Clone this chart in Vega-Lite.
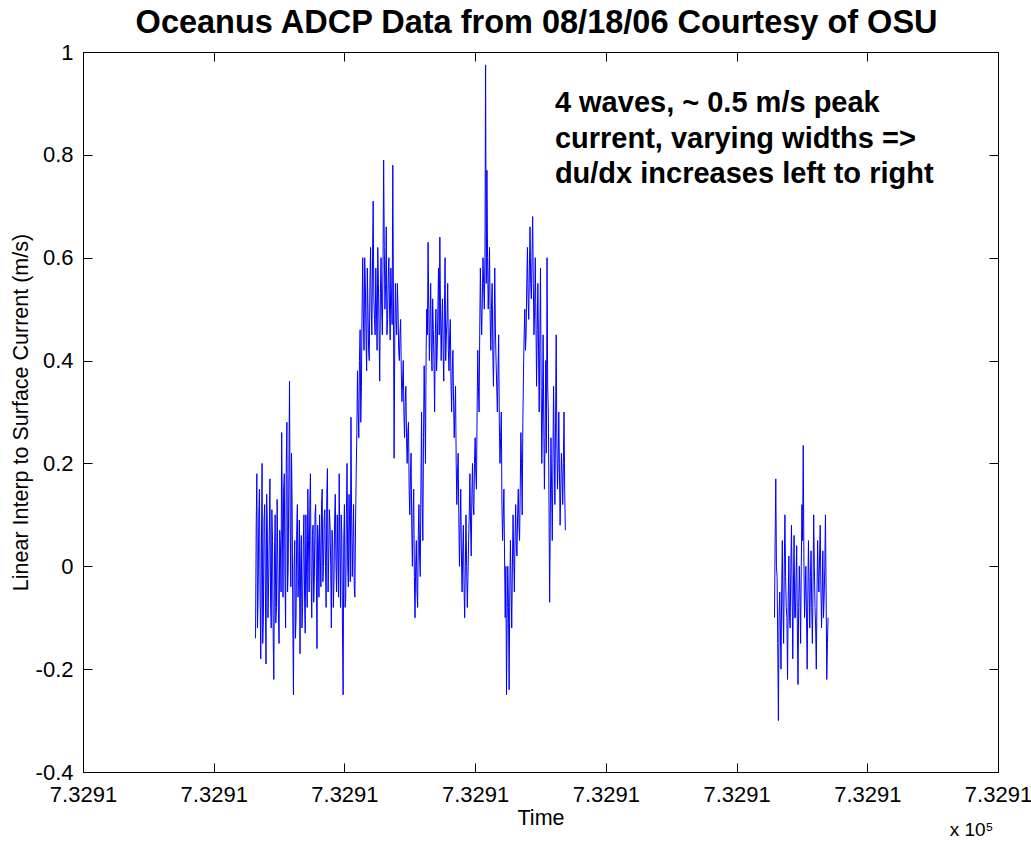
{
"$schema": "https://vega.github.io/schema/vega-lite/v6.json",
"width": 915, "height": 720,
"autosize": {"type": "none"},
"padding": {"left": 83, "top": 52, "right": 33, "bottom": 70},
"background": "white",
"config": {
  "view": {"stroke": "black", "strokeWidth": 1},
  "axis": {"grid": false, "domainColor": "black", "tickColor": "black", "labelColor": "black", "titleColor": "black", "labelFont": "Liberation Sans", "titleFont": "Liberation Sans", "labelFontSize": 22, "titleFontSize": 21.5, "titleFontWeight": "normal", "tickSize": -9, "labelFlush": false, "labelOverlap": false}
},
"data": {"values": [
{"t":132,"v":-0.14,"s":1},{"t":133,"v":0.18,"s":1},{"t":134,"v":-0.05,"s":1},{"t":135,"v":0.15,"s":1},{"t":136,"v":-0.18,"s":1},{"t":137,"v":0.2,"s":1},{"t":138,"v":-0.1,"s":1},{"t":139,"v":0.12,"s":1},{"t":140,"v":-0.19,"s":1},{"t":141,"v":0.08,"s":1},
{"t":142,"v":-0.03,"s":1},{"t":143,"v":0.17,"s":1},{"t":144,"v":-0.12,"s":1},{"t":145,"v":0.05,"s":1},{"t":146,"v":-0.22,"s":1},{"t":147,"v":0.1,"s":1},{"t":148,"v":-0.08,"s":1},{"t":149,"v":0.02,"s":1},{"t":150,"v":-0.15,"s":1},{"t":151,"v":0.04,"s":1},
{"t":152,"v":0.26,"s":1},{"t":153,"v":-0.06,"s":1},{"t":154,"v":0.18,"s":1},{"t":155,"v":-0.12,"s":1},{"t":156,"v":0.28,"s":1},{"t":157,"v":0.0,"s":1},{"t":158,"v":0.36,"s":1},{"t":159,"v":-0.04,"s":1},{"t":160,"v":0.12,"s":1},{"t":161,"v":-0.25,"s":1},
{"t":162,"v":0.05,"s":1},{"t":163,"v":-0.1,"s":1},{"t":164,"v":0.12,"s":1},{"t":165,"v":-0.02,"s":1},{"t":166,"v":-0.17,"s":1},{"t":167,"v":0.06,"s":1},{"t":168,"v":-0.08,"s":1},{"t":169,"v":0.1,"s":1},{"t":170,"v":-0.13,"s":1},{"t":171,"v":0.0,"s":1},
{"t":172,"v":0.15,"s":1},{"t":173,"v":-0.05,"s":1},{"t":174,"v":0.18,"s":1},{"t":175,"v":-0.1,"s":1},{"t":176,"v":0.08,"s":1},{"t":177,"v":-0.02,"s":1},{"t":178,"v":0.12,"s":1},{"t":179,"v":-0.16,"s":1},{"t":180,"v":0.05,"s":1},{"t":181,"v":0.1,"s":1},
{"t":182,"v":-0.04,"s":1},{"t":183,"v":0.15,"s":1},{"t":184,"v":0.0,"s":1},{"t":185,"v":0.11,"s":1},{"t":186,"v":-0.08,"s":1},{"t":187,"v":0.19,"s":1},{"t":188,"v":0.02,"s":1},{"t":189,"v":0.08,"s":1},{"t":190,"v":-0.12,"s":1},{"t":191,"v":0.05,"s":1},
{"t":192,"v":-0.03,"s":1},{"t":193,"v":0.14,"s":1},{"t":194,"v":-0.05,"s":1},{"t":195,"v":0.02,"s":1},{"t":196,"v":0.18,"s":1},{"t":197,"v":-0.08,"s":1},{"t":198,"v":0.06,"s":1},{"t":199,"v":-0.25,"s":1},{"t":200,"v":0.12,"s":1},{"t":201,"v":-0.06,"s":1},
{"t":202,"v":0.2,"s":1},{"t":203,"v":-0.04,"s":1},{"t":204,"v":0.08,"s":1},{"t":205,"v":0.29,"s":1},{"t":206,"v":-0.02,"s":1},{"t":207,"v":0.12,"s":1},{"t":208,"v":-0.06,"s":1},{"t":209,"v":0.18,"s":1},{"t":210,"v":0.38,"s":1},{"t":211,"v":0.25,"s":1},
{"t":212,"v":0.46,"s":1},{"t":213,"v":0.35,"s":1},{"t":214,"v":0.6,"s":1},{"t":215,"v":0.42,"s":1},{"t":216,"v":0.55,"s":1},{"t":217,"v":0.38,"s":1},{"t":218,"v":0.5,"s":1},{"t":219,"v":0.4,"s":1},{"t":220,"v":0.62,"s":1},{"t":221,"v":0.45,"s":1},
{"t":222,"v":0.71,"s":1},{"t":223,"v":0.48,"s":1},{"t":224,"v":0.58,"s":1},{"t":225,"v":0.42,"s":1},{"t":226,"v":0.55,"s":1},{"t":227,"v":0.36,"s":1},{"t":228,"v":0.6,"s":1},{"t":229,"v":0.45,"s":1},{"t":230,"v":0.79,"s":1},{"t":231,"v":0.5,"s":1},
{"t":232,"v":0.66,"s":1},{"t":233,"v":0.48,"s":1},{"t":234,"v":0.6,"s":1},{"t":235,"v":0.44,"s":1},{"t":236,"v":0.52,"s":1},{"t":237,"v":0.78,"s":1},{"t":238,"v":0.21,"s":1},{"t":239,"v":0.55,"s":1},{"t":240,"v":0.45,"s":1},{"t":241,"v":0.5,"s":1},
{"t":242,"v":0.4,"s":1},{"t":243,"v":0.48,"s":1},{"t":244,"v":0.32,"s":1},{"t":245,"v":0.4,"s":1},{"t":246,"v":0.25,"s":1},{"t":247,"v":0.35,"s":1},{"t":248,"v":0.2,"s":1},{"t":249,"v":0.28,"s":1},{"t":250,"v":0.1,"s":1},{"t":251,"v":0.22,"s":1},
{"t":252,"v":0.0,"s":1},{"t":253,"v":0.15,"s":1},{"t":254,"v":-0.1,"s":1},{"t":255,"v":0.05,"s":1},{"t":256,"v":-0.08,"s":1},{"t":257,"v":0.12,"s":1},{"t":258,"v":-0.02,"s":1},{"t":259,"v":0.3,"s":1},{"t":260,"v":0.05,"s":1},{"t":261,"v":0.39,"s":1},
{"t":262,"v":0.2,"s":1},{"t":263,"v":0.5,"s":1},{"t":264,"v":0.63,"s":1},{"t":265,"v":0.4,"s":1},{"t":266,"v":0.55,"s":1},{"t":267,"v":0.38,"s":1},{"t":268,"v":0.46,"s":1},{"t":269,"v":0.3,"s":1},{"t":270,"v":0.5,"s":1},{"t":271,"v":0.42,"s":1},
{"t":272,"v":0.58,"s":1},{"t":273,"v":0.64,"s":1},{"t":274,"v":0.4,"s":1},{"t":275,"v":0.52,"s":1},{"t":276,"v":0.36,"s":1},{"t":277,"v":0.6,"s":1},{"t":278,"v":0.45,"s":1},{"t":279,"v":0.55,"s":1},{"t":280,"v":0.38,"s":1},{"t":281,"v":0.48,"s":1},
{"t":282,"v":0.3,"s":1},{"t":283,"v":0.42,"s":1},{"t":284,"v":0.25,"s":1},{"t":285,"v":0.35,"s":1},{"t":286,"v":0.12,"s":1},{"t":287,"v":0.22,"s":1},{"t":288,"v":0.0,"s":1},{"t":289,"v":0.15,"s":1},{"t":290,"v":-0.05,"s":1},{"t":291,"v":0.08,"s":1},
{"t":292,"v":-0.1,"s":1},{"t":293,"v":0.1,"s":1},{"t":294,"v":-0.08,"s":1},{"t":295,"v":0.05,"s":1},{"t":296,"v":0.18,"s":1},{"t":297,"v":0.02,"s":1},{"t":298,"v":0.2,"s":1},{"t":299,"v":0.1,"s":1},{"t":300,"v":0.25,"s":1},{"t":301,"v":0.15,"s":1},
{"t":302,"v":0.42,"s":1},{"t":303,"v":0.3,"s":1},{"t":304,"v":0.58,"s":1},{"t":305,"v":0.45,"s":1},{"t":306,"v":0.6,"s":1},{"t":307,"v":0.5,"s":1},{"t":308,"v":0.975,"s":1},{"t":309,"v":0.77,"s":1},{"t":310,"v":0.5,"s":1},{"t":311,"v":0.62,"s":1},
{"t":312,"v":0.42,"s":1},{"t":313,"v":0.55,"s":1},{"t":314,"v":0.35,"s":1},{"t":315,"v":0.58,"s":1},{"t":316,"v":0.4,"s":1},{"t":317,"v":0.3,"s":1},{"t":318,"v":0.45,"s":1},{"t":319,"v":0.2,"s":1},{"t":320,"v":0.3,"s":1},{"t":321,"v":0.05,"s":1},
{"t":322,"v":0.15,"s":1},{"t":323,"v":-0.1,"s":1},{"t":324,"v":-0.25,"s":1},{"t":325,"v":0.0,"s":1},{"t":326,"v":-0.24,"s":1},{"t":327,"v":0.05,"s":1},{"t":328,"v":-0.12,"s":1},{"t":329,"v":0.1,"s":1},{"t":330,"v":-0.05,"s":1},{"t":331,"v":0.12,"s":1},
{"t":332,"v":0.02,"s":1},{"t":333,"v":0.15,"s":1},{"t":334,"v":0.05,"s":1},{"t":335,"v":0.26,"s":1},{"t":336,"v":0.1,"s":1},{"t":337,"v":0.38,"s":1},{"t":338,"v":0.5,"s":1},{"t":339,"v":0.45,"s":1},{"t":340,"v":0.62,"s":1},{"t":341,"v":0.48,"s":1},
{"t":342,"v":0.66,"s":1},{"t":343,"v":0.52,"s":1},{"t":344,"v":0.68,"s":1},{"t":345,"v":0.45,"s":1},{"t":346,"v":0.6,"s":1},{"t":347,"v":0.35,"s":1},{"t":348,"v":0.55,"s":1},{"t":349,"v":0.3,"s":1},{"t":350,"v":0.58,"s":1},{"t":351,"v":0.2,"s":1},
{"t":352,"v":0.45,"s":1},{"t":353,"v":0.15,"s":1},{"t":354,"v":0.4,"s":1},{"t":355,"v":0.6,"s":1},{"t":356,"v":0.3,"s":1},{"t":357,"v":-0.07,"s":1},{"t":358,"v":0.25,"s":1},{"t":359,"v":0.05,"s":1},{"t":360,"v":0.35,"s":1},{"t":361,"v":0.12,"s":1},
{"t":362,"v":0.45,"s":1},{"t":363,"v":0.15,"s":1},{"t":364,"v":0.3,"s":1},{"t":365,"v":0.08,"s":1},{"t":366,"v":0.22,"s":1},{"t":367,"v":0.12,"s":1},{"t":368,"v":0.3,"s":1},{"t":369,"v":0.07,"s":1},
{"t":132.5,"v":0.08,"s":1},{"t":133.5,"v":-0.12,"s":1},{"t":134.5,"v":0.1,"s":1},{"t":135.5,"v":-0.06,"s":1},{"t":136.5,"v":0.04,"s":1},{"t":137.5,"v":-0.15,"s":1},{"t":138.5,"v":0.09,"s":1},{"t":139.5,"v":-0.04,"s":1},{"t":140.5,"v":0.14,"s":1},{"t":141.5,"v":-0.1,"s":1},
{"t":142.5,"v":0.06,"s":1},{"t":143.5,"v":-0.07,"s":1},{"t":144.5,"v":0.11,"s":1},{"t":145.5,"v":-0.14,"s":1},{"t":146.5,"v":0.02,"s":1},{"t":147.5,"v":-0.11,"s":1},{"t":148.5,"v":0.13,"s":1},{"t":149.5,"v":-0.09,"s":1},{"t":150.5,"v":0.07,"s":1},{"t":151.5,"v":-0.05,"s":1},
{"t":152.5,"v":0.1,"s":1},{"t":153.5,"v":0.15,"s":1},{"t":154.5,"v":-0.02,"s":1},{"t":155.5,"v":0.2,"s":1},{"t":156.5,"v":-0.05,"s":1},{"t":157.5,"v":0.18,"s":1},{"t":158.5,"v":0.08,"s":1},{"t":159.5,"v":0.22,"s":1},{"t":160.5,"v":-0.1,"s":1},{"t":161.5,"v":0.0,"s":1},
{"t":162.5,"v":-0.14,"s":1},{"t":163.5,"v":0.07,"s":1},{"t":164.5,"v":-0.06,"s":1},{"t":165.5,"v":0.09,"s":1},{"t":166.5,"v":0.0,"s":1},{"t":167.5,"v":-0.12,"s":1},{"t":168.5,"v":0.04,"s":1},{"t":169.5,"v":-0.06,"s":1},{"t":170.5,"v":0.1,"s":1},{"t":171.5,"v":-0.08,"s":1},
{"t":172.5,"v":0.05,"s":1},{"t":173.5,"v":0.12,"s":1},{"t":174.5,"v":-0.02,"s":1},{"t":175.5,"v":0.06,"s":1},{"t":176.5,"v":-0.07,"s":1},{"t":177.5,"v":0.1,"s":1},{"t":178.5,"v":0.0,"s":1},{"t":179.5,"v":0.08,"s":1},{"t":180.5,"v":-0.06,"s":1},{"t":181.5,"v":0.02,"s":1},
{"t":182.5,"v":0.12,"s":1},{"t":183.5,"v":-0.03,"s":1},{"t":184.5,"v":0.09,"s":1},{"t":185.5,"v":0.0,"s":1},{"t":186.5,"v":0.14,"s":1},{"t":187.5,"v":-0.05,"s":1},{"t":188.5,"v":0.11,"s":1},{"t":189.5,"v":0.0,"s":1},{"t":190.5,"v":0.07,"s":1},{"t":191.5,"v":-0.08,"s":1},
{"t":192.5,"v":0.09,"s":1},{"t":193.5,"v":0.01,"s":1},{"t":194.5,"v":0.1,"s":1},{"t":195.5,"v":-0.06,"s":1},{"t":196.5,"v":0.04,"s":1},{"t":197.5,"v":0.1,"s":1},{"t":198.5,"v":-0.12,"s":1},{"t":199.5,"v":0.05,"s":1},{"t":200.5,"v":-0.08,"s":1},{"t":201.5,"v":0.1,"s":1},
{"t":202.5,"v":0.0,"s":1},{"t":203.5,"v":0.14,"s":1},{"t":204.5,"v":-0.03,"s":1},{"t":205.5,"v":0.1,"s":1},{"t":206.5,"v":0.05,"s":1},{"t":207.5,"v":-0.04,"s":1},{"t":208.5,"v":0.08,"s":1},{"t":209.5,"v":0.26,"s":1},{"t":210.5,"v":0.3,"s":1},{"t":211.5,"v":0.4,"s":1},
{"t":212.5,"v":0.28,"s":1},{"t":213.5,"v":0.5,"s":1},{"t":214.5,"v":0.48,"s":1},{"t":215.5,"v":0.6,"s":1},{"t":216.5,"v":0.45,"s":1},{"t":217.5,"v":0.58,"s":1},{"t":218.5,"v":0.42,"s":1},{"t":219.5,"v":0.55,"s":1},{"t":220.5,"v":0.5,"s":1},{"t":221.5,"v":0.6,"s":1},
{"t":222.5,"v":0.52,"s":1},{"t":223.5,"v":0.45,"s":1},{"t":224.5,"v":0.5,"s":1},{"t":225.5,"v":0.62,"s":1},{"t":226.5,"v":0.46,"s":1},{"t":227.5,"v":0.53,"s":1},{"t":228.5,"v":0.5,"s":1},{"t":229.5,"v":0.58,"s":1},{"t":230.5,"v":0.62,"s":1},{"t":231.5,"v":0.55,"s":1},
{"t":232.5,"v":0.45,"s":1},{"t":233.5,"v":0.56,"s":1},{"t":234.5,"v":0.5,"s":1},{"t":235.5,"v":0.58,"s":1},{"t":236.5,"v":0.47,"s":1},{"t":237.5,"v":0.52,"s":1},{"t":238.5,"v":0.44,"s":1},{"t":239.5,"v":0.48,"s":1},{"t":240.5,"v":0.55,"s":1},{"t":241.5,"v":0.42,"s":1},
{"t":242.5,"v":0.45,"s":1},{"t":243.5,"v":0.38,"s":1},{"t":244.5,"v":0.36,"s":1},{"t":245.5,"v":0.3,"s":1},{"t":246.5,"v":0.32,"s":1},{"t":247.5,"v":0.25,"s":1},{"t":248.5,"v":0.26,"s":1},{"t":249.5,"v":0.15,"s":1},{"t":250.5,"v":0.18,"s":1},{"t":251.5,"v":0.08,"s":1},
{"t":252.5,"v":0.1,"s":1},{"t":253.5,"v":-0.02,"s":1},{"t":254.5,"v":0.0,"s":1},{"t":255.5,"v":-0.05,"s":1},{"t":256.5,"v":0.06,"s":1},{"t":257.5,"v":0.02,"s":1},{"t":258.5,"v":0.15,"s":1},{"t":259.5,"v":0.12,"s":1},{"t":260.5,"v":0.25,"s":1},{"t":261.5,"v":0.3,"s":1},
{"t":262.5,"v":0.42,"s":1},{"t":263.5,"v":0.45,"s":1},{"t":264.5,"v":0.5,"s":1},{"t":265.5,"v":0.48,"s":1},{"t":266.5,"v":0.42,"s":1},{"t":267.5,"v":0.52,"s":1},{"t":268.5,"v":0.4,"s":1},{"t":269.5,"v":0.45,"s":1},{"t":270.5,"v":0.38,"s":1},{"t":271.5,"v":0.5,"s":1},
{"t":272.5,"v":0.45,"s":1},{"t":273.5,"v":0.5,"s":1},{"t":274.5,"v":0.47,"s":1},{"t":275.5,"v":0.42,"s":1},{"t":276.5,"v":0.5,"s":1},{"t":277.5,"v":0.4,"s":1},{"t":278.5,"v":0.48,"s":1},{"t":279.5,"v":0.42,"s":1},{"t":280.5,"v":0.45,"s":1},{"t":281.5,"v":0.36,"s":1},
{"t":282.5,"v":0.38,"s":1},{"t":283.5,"v":0.32,"s":1},{"t":284.5,"v":0.3,"s":1},{"t":285.5,"v":0.2,"s":1},{"t":286.5,"v":0.18,"s":1},{"t":287.5,"v":0.1,"s":1},{"t":288.5,"v":0.08,"s":1},{"t":289.5,"v":0.02,"s":1},{"t":290.5,"v":0.03,"s":1},{"t":291.5,"v":-0.04,"s":1},
{"t":292.5,"v":0.0,"s":1},{"t":293.5,"v":0.0,"s":1},{"t":294.5,"v":-0.02,"s":1},{"t":295.5,"v":0.1,"s":1},{"t":296.5,"v":0.08,"s":1},{"t":297.5,"v":0.14,"s":1},{"t":298.5,"v":0.12,"s":1},{"t":299.5,"v":0.2,"s":1},{"t":300.5,"v":0.18,"s":1},{"t":301.5,"v":0.3,"s":1},
{"t":302.5,"v":0.35,"s":1},{"t":303.5,"v":0.45,"s":1},{"t":304.5,"v":0.5,"s":1},{"t":305.5,"v":0.52,"s":1},{"t":306.5,"v":0.55,"s":1},{"t":307.5,"v":0.6,"s":1},{"t":308.5,"v":0.55,"s":1},{"t":309.5,"v":0.6,"s":1},{"t":310.5,"v":0.55,"s":1},{"t":311.5,"v":0.48,"s":1},
{"t":312.5,"v":0.5,"s":1},{"t":313.5,"v":0.42,"s":1},{"t":314.5,"v":0.45,"s":1},{"t":315.5,"v":0.46,"s":1},{"t":316.5,"v":0.35,"s":1},{"t":317.5,"v":0.38,"s":1},{"t":318.5,"v":0.28,"s":1},{"t":319.5,"v":0.25,"s":1},{"t":320.5,"v":0.12,"s":1},{"t":321.5,"v":0.1,"s":1},
{"t":322.5,"v":0.02,"s":1},{"t":323.5,"v":0.0,"s":1},{"t":324.5,"v":-0.1,"s":1},{"t":325.5,"v":-0.08,"s":1},{"t":326.5,"v":-0.05,"s":1},{"t":327.5,"v":-0.04,"s":1},{"t":328.5,"v":0.0,"s":1},{"t":329.5,"v":0.02,"s":1},{"t":330.5,"v":0.05,"s":1},{"t":331.5,"v":0.04,"s":1},
{"t":332.5,"v":0.1,"s":1},{"t":333.5,"v":0.08,"s":1},{"t":334.5,"v":0.15,"s":1},{"t":335.5,"v":0.2,"s":1},{"t":336.5,"v":0.28,"s":1},{"t":337.5,"v":0.45,"s":1},{"t":338.5,"v":0.42,"s":1},{"t":339.5,"v":0.55,"s":1},{"t":340.5,"v":0.52,"s":1},{"t":341.5,"v":0.58,"s":1},
{"t":342.5,"v":0.55,"s":1},{"t":343.5,"v":0.6,"s":1},{"t":344.5,"v":0.55,"s":1},{"t":345.5,"v":0.5,"s":1},{"t":346.5,"v":0.48,"s":1},{"t":347.5,"v":0.46,"s":1},{"t":348.5,"v":0.42,"s":1},{"t":349.5,"v":0.45,"s":1},{"t":350.5,"v":0.35,"s":1},{"t":351.5,"v":0.3,"s":1},
{"t":352.5,"v":0.28,"s":1},{"t":353.5,"v":0.25,"s":1},{"t":354.5,"v":0.22,"s":1},{"t":355.5,"v":0.35,"s":1},{"t":356.5,"v":0.12,"s":1},{"t":357.5,"v":0.1,"s":1},{"t":358.5,"v":0.15,"s":1},{"t":359.5,"v":0.2,"s":1},{"t":360.5,"v":0.22,"s":1},{"t":361.5,"v":0.28,"s":1},
{"t":362.5,"v":0.25,"s":1},{"t":363.5,"v":0.2,"s":1},{"t":364.5,"v":0.18,"s":1},{"t":365.5,"v":0.15,"s":1},{"t":366.5,"v":0.18,"s":1},{"t":367.5,"v":0.2,"s":1},{"t":368.5,"v":0.15,"s":1},
{"t":529,"v":-0.1,"s":2},{"t":530,"v":0.17,"s":2},{"t":531,"v":-0.02,"s":2},{"t":532,"v":-0.3,"s":2},{"t":533,"v":-0.05,"s":2},{"t":534,"v":-0.2,"s":2},{"t":535,"v":0.05,"s":2},{"t":536,"v":-0.15,"s":2},{"t":537,"v":0.1,"s":2},{"t":538,"v":-0.08,"s":2},
{"t":539,"v":-0.22,"s":2},{"t":540,"v":0.02,"s":2},{"t":541,"v":-0.12,"s":2},{"t":542,"v":0.08,"s":2},{"t":543,"v":-0.18,"s":2},{"t":544,"v":0.06,"s":2},{"t":545,"v":-0.1,"s":2},{"t":546,"v":0.04,"s":2},{"t":547,"v":-0.23,"s":2},{"t":548,"v":0.0,"s":2},
{"t":549,"v":-0.15,"s":2},{"t":550,"v":0.12,"s":2},{"t":551,"v":0.235,"s":2},{"t":552,"v":-0.1,"s":2},{"t":553,"v":0.0,"s":2},{"t":554,"v":-0.2,"s":2},{"t":555,"v":0.05,"s":2},{"t":556,"v":-0.12,"s":2},{"t":557,"v":0.03,"s":2},{"t":558,"v":-0.15,"s":2},
{"t":559,"v":0.1,"s":2},{"t":560,"v":-0.08,"s":2},{"t":561,"v":-0.2,"s":2},{"t":562,"v":0.05,"s":2},{"t":563,"v":-0.05,"s":2},{"t":564,"v":0.08,"s":2},{"t":565,"v":-0.12,"s":2},{"t":566,"v":0.03,"s":2},{"t":567,"v":-0.06,"s":2},{"t":568,"v":0.1,"s":2},
{"t":569,"v":-0.22,"s":2},{"t":570,"v":-0.1,"s":2},
{"t":529.5,"v":0.05,"s":2},{"t":530.5,"v":0.0,"s":2},{"t":531.5,"v":-0.15,"s":2},{"t":532.5,"v":-0.1,"s":2},{"t":533.5,"v":-0.12,"s":2},{"t":534.5,"v":-0.05,"s":2},{"t":535.5,"v":-0.08,"s":2},{"t":536.5,"v":0.0,"s":2},{"t":537.5,"v":-0.02,"s":2},{"t":538.5,"v":-0.1,"s":2},
{"t":539.5,"v":-0.06,"s":2},{"t":540.5,"v":-0.1,"s":2},{"t":541.5,"v":0.0,"s":2},{"t":542.5,"v":-0.05,"s":2},{"t":543.5,"v":-0.04,"s":2},{"t":544.5,"v":-0.1,"s":2},{"t":545.5,"v":-0.02,"s":2},{"t":546.5,"v":-0.12,"s":2},{"t":547.5,"v":-0.08,"s":2},{"t":548.5,"v":-0.05,"s":2},
{"t":549.5,"v":0.0,"s":2},{"t":550.5,"v":0.05,"s":2},{"t":551.5,"v":0.02,"s":2},{"t":552.5,"v":-0.05,"s":2},{"t":553.5,"v":-0.1,"s":2},{"t":554.5,"v":-0.06,"s":2},{"t":555.5,"v":-0.04,"s":2},{"t":556.5,"v":-0.02,"s":2},{"t":557.5,"v":-0.08,"s":2},{"t":558.5,"v":-0.04,"s":2},
{"t":559.5,"v":0.0,"s":2},{"t":560.5,"v":-0.12,"s":2},{"t":561.5,"v":-0.06,"s":2},{"t":562.5,"v":-0.02,"s":2},{"t":563.5,"v":0.02,"s":2},{"t":564.5,"v":-0.04,"s":2},{"t":565.5,"v":-0.05,"s":2},{"t":566.5,"v":-0.1,"s":2},{"t":567.5,"v":0.0,"s":2},{"t":568.5,"v":-0.05,"s":2},
{"t":569.5,"v":-0.15,"s":2}
]},
"layer": [
  {
    "mark": {"type": "line", "color": "#0000ff", "strokeWidth": 1},
    "encoding": {
      "x": {"field": "t", "type": "quantitative", "scale": {"domain": [0, 700], "nice": false, "zero": false},
            "axis": {"orient": "bottom", "values": [0,100,200,300,400,500,600,700], "labelExpr": "'7.3291'", "title": "Time", "labelPadding": 21, "titlePadding": 2}},
      "y": {"field": "v", "type": "quantitative", "scale": {"domain": [-0.4, 1], "nice": false, "zero": false},
            "axis": {"orient": "left", "values": [-0.4,-0.2,0,0.2,0.4,0.6,0.8,1], "labelExpr": "'' + datum.value", "title": "Linear Interp to Surface Current (m/s)", "labelPadding": 19, "titlePadding": 3}},
      "detail": {"field": "s", "type": "nominal"}
    }
  },
  {
    "mark": {"type": "line", "opacity": 0},
    "encoding": {
      "x": {"field": "t", "type": "quantitative", "scale": {"domain": [0, 700], "nice": false, "zero": false},
            "axis": {"orient": "top", "values": [0,100,200,300,400,500,600,700], "labels": false, "title": null}},
      "y": {"field": "v", "type": "quantitative", "scale": {"domain": [-0.4, 1], "nice": false, "zero": false},
            "axis": {"orient": "right", "values": [-0.4,-0.2,0,0.2,0.4,0.6,0.8,1], "labels": false, "title": null}},
      "detail": {"field": "s", "type": "nominal"}
    }
  },
  {
    "data": {"values": [{}]},
    "mark": {"type": "text", "text": "Oceanus ADCP Data from 08/18/06 Courtesy of OSU", "font": "Liberation Sans", "fontSize": 32.5, "fontWeight": "bold", "color": "black", "align": "center", "baseline": "alphabetic"},
    "encoding": {
      "x": {"datum": 347, "scale": {"domain": [0, 700], "nice": false, "zero": false}, "axis": null},
      "y": {"datum": 1.037, "scale": {"domain": [-0.4, 1], "nice": false, "zero": false}, "axis": null}
    }
  },
  {
    "data": {"values": [{}]},
    "mark": {"type": "text", "text": ["4 waves, ~ 0.5 m/s peak", "current, varying widths =>", "du/dx increases left to right"], "font": "Liberation Sans", "fontSize": 29, "fontWeight": "bold", "color": "black", "align": "left", "baseline": "alphabetic", "lineHeight": 35.5},
    "encoding": {
      "x": {"datum": 361, "scale": {"domain": [0, 700], "nice": false, "zero": false}, "axis": null},
      "y": {"datum": 0.883, "scale": {"domain": [-0.4, 1], "nice": false, "zero": false}, "axis": null}
    }
  },
  {
    "data": {"values": [{}]},
    "mark": {"type": "text", "text": "x 10⁵", "font": "Liberation Sans", "fontSize": 19, "color": "black", "align": "left", "baseline": "alphabetic"},
    "encoding": {
      "x": {"datum": 663, "scale": {"domain": [0, 700], "nice": false, "zero": false}, "axis": null},
      "y": {"datum": -0.524, "scale": {"domain": [-0.4, 1], "nice": false, "zero": false}, "axis": null}
    }
  }
],
"resolve": {"axis": {"x": "independent", "y": "independent"}}
}
